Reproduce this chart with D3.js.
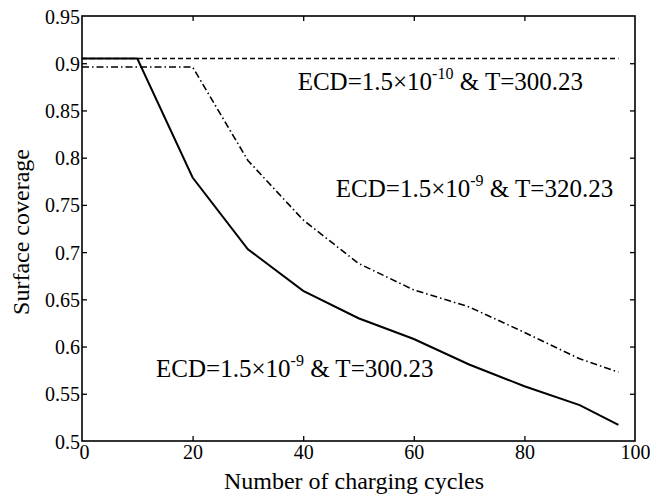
<!DOCTYPE html>
<html><head><meta charset="utf-8">
<script src="https://cdn.jsdelivr.net/npm/d3@7"></script>
<style>body{margin:0;background:#fff}svg{display:block}</style>
</head><body>
<script>
const xTicks = [0,20,40,60,80,100];
const yTicks = [0.5,0.55,0.6,0.65,0.7,0.75,0.8,0.85,0.9,0.95];
const yTickLabels = ["0.5","0.55","0.6","0.65","0.7","0.75","0.8","0.85","0.9","0.95"];
const cyclesSolid = [0,10,20,30,40,50,60,70,80,90,97];
const coverageSolid = [0.905,0.905,0.779,0.703,0.659,0.630,0.608,0.581,0.558,0.538,0.517];
const cyclesDashDot = [0,10,20,30,40,50,60,70,80,90,97];
const coverageDashDot = [0.896,0.896,0.896,0.797,0.734,0.688,0.660,0.642,0.615,0.587,0.573];
const cyclesDashed = [0,97];
const coverageDashed = [0.905,0.905];
const labels = [
  {x:39.0, y:0.8717, base:"ECD=1.5×10", sup:"-10", rest:" & T=300.23"},
  {x:45.9, y:0.7584, base:"ECD=1.5×10", sup:"-9", rest:" & T=320.23"},
  {x:13.4, y:0.5678, base:"ECD=1.5×10", sup:"-9", rest:" & T=300.23"}
];

const FONT='"Liberation Serif","Times New Roman",Times,serif';
const W=650,H=497, m={l:82,r:15,t:16,b:56};
const svg=d3.select("body").append("svg").attr("width",W).attr("height",H)
  .attr("font-family",FONT).style("font-family",FONT);
const x=d3.scaleLinear().domain([0,100]).range([m.l,W-m.r]);
const y=d3.scaleLinear().domain([0.5,0.95]).range([H-m.b,m.t]);

const g=svg.append("g");
const gb=g.append("g").attr("transform",`translate(0,${H-m.b})`).call(d3.axisBottom(x).tickValues(xTicks).tickSizeInner(-5).tickSizeOuter(0).tickPadding(4));
const gt=g.append("g").attr("transform",`translate(0,${m.t})`).call(d3.axisTop(x).tickValues(xTicks.slice(1,-1)).tickSizeInner(-5).tickSizeOuter(0).tickFormat(""));
const gl=g.append("g").attr("transform",`translate(${m.l},0)`).call(d3.axisLeft(y).tickValues(yTicks).tickSizeInner(-5).tickSizeOuter(0).tickPadding(2).tickFormat((d,i)=>yTickLabels[i]));
const gr=g.append("g").attr("transform",`translate(${W-m.r},0)`).call(d3.axisRight(y).tickValues(yTicks.slice(1,-1)).tickSizeInner(-5).tickSizeOuter(0).tickFormat(""));
[gb,gt,gl,gr].forEach(a=>{
  a.attr("font-family",FONT).attr("font-size",20);
  a.select(".domain").remove();
  a.selectAll("line").attr("stroke","#000").attr("stroke-width",1.3);
  a.selectAll("text").style("font-size","20px").style("font-family",FONT).attr("fill","#000");
});
gb.selectAll(".tick").filter(d=>d===0||d===100).select("line").remove();
gl.selectAll(".tick").filter(d=>d===0.5||d===0.95).select("line").remove();
gl.selectAll("text").attr("dy","0.35em");
gb.selectAll(".tick").filter(d=>d===0).select("text").attr("dx",2);

g.append("rect").attr("x",m.l).attr("y",m.t).attr("width",W-m.l-m.r).attr("height",H-m.t-m.b)
 .attr("fill","none").attr("stroke","#000").attr("stroke-width",1.6);

const line=d3.line().x(d=>x(d[0])).y(d=>y(d[1]));
g.append("path").datum(cyclesDashed.map((c,i)=>[c,coverageDashed[i]])).attr("d",line)
 .attr("fill","none").attr("stroke","#000").attr("stroke-width",1.5).attr("stroke-dasharray","5,3");
g.append("path").datum(cyclesDashDot.map((c,i)=>[c,coverageDashDot[i]])).attr("d",line)
 .attr("fill","none").attr("stroke","#000").attr("stroke-width",1.6).attr("stroke-dasharray","7,3,1.5,3");
g.append("path").datum(cyclesSolid.map((c,i)=>[c,coverageSolid[i]])).attr("d",line)
 .attr("fill","none").attr("stroke","#000").attr("stroke-width",2);

labels.forEach(L=>{
  const t=g.append("text").attr("x",x(L.x)).attr("y",y(L.y)).style("font-size","25px").style("font-family",FONT).attr("fill","#000");
  t.append("tspan").text(L.base);
  t.append("tspan").attr("dy",-11).style("font-size","16px").text(L.sup);
  t.append("tspan").attr("dy",11).text(L.rest);
});

svg.append("text").attr("x",354).attr("y",489).attr("text-anchor","middle").style("font-size","24px").style("font-family",FONT).text("Number of charging cycles");
svg.append("text").attr("transform","translate(29,232) rotate(-90)").attr("text-anchor","middle").style("font-size","24px").style("font-family",FONT).text("Surface coverage");
</script>
</body></html>
